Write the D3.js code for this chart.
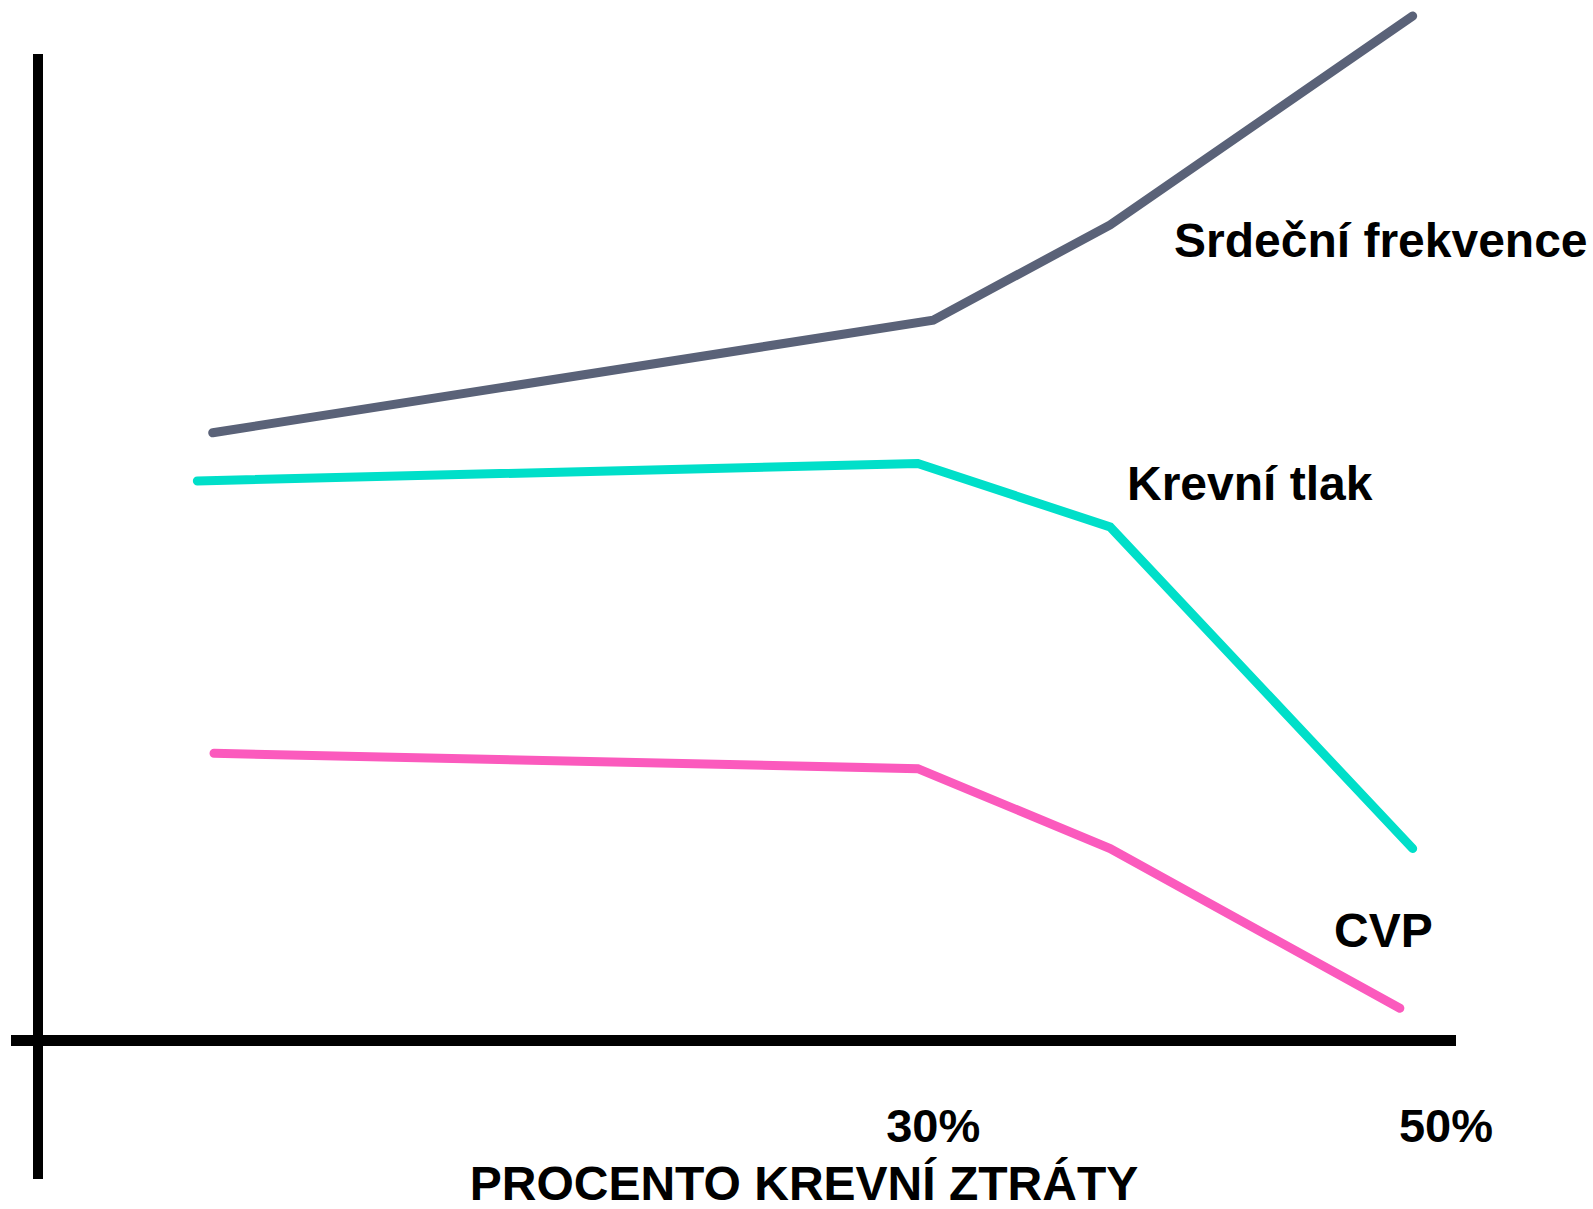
<!DOCTYPE html>
<html>
<head>
<meta charset="utf-8">
<script src="https://cdn.jsdelivr.net/npm/d3@7/dist/d3.min.js"></script>
<style>
  html, body { margin: 0; padding: 0; background: #ffffff; }
  svg { display: block; }
  text { font-family: "Liberation Sans", Arial, Helvetica, sans-serif; font-weight: bold; fill: #000; }
</style>
</head>
<body>
<svg id="chart" width="1593" height="1209"></svg>
<script>
// ---- Data (x: percent blood loss, y: relative level 0-100) ----
const seriesNames = ["Srdeční frekvence", "Krevní tlak", "CVP"];
const heartRateX = [1.9, 30.0, 36.9, 48.7];
const heartRateY = [59.3, 70.3, 79.6, 100];
const bloodPressureX = [1.3, 29.4, 36.9, 48.7];
const bloodPressureY = [54.6, 56.3, 50.1, 18.7];
const cvpX = [1.95, 29.4, 36.9, 48.2];
const cvpY = [28.0, 26.5, 18.7, 3.1];
const tickValues = [30, 50];
const tickLabels = ["30%", "50%"];
const xAxisTitle = "PROCENTO KREVNÍ ZTRÁTY";
const colors = ["#5a6278", "#00dfc9", "#fb5abd"];

// ---- Layout ----
const svg = d3.select("#chart");
const x = d3.scaleLinear().domain([0, 50]).range([164, 1446]);
const y = d3.scaleLinear().domain([0, 100]).range([1040, 16]);

// Axes
svg.append("line")
  .attr("x1", 38).attr("x2", 38)
  .attr("y1", 54).attr("y2", 1179)
  .attr("stroke", "#000").attr("stroke-width", 10);
svg.append("line")
  .attr("x1", 11).attr("x2", 1456)
  .attr("y1", y(0) + 0.5).attr("y2", y(0) + 0.5)
  .attr("stroke", "#000").attr("stroke-width", 11);

// Lines
const series = [
  { name: seriesNames[0], xs: heartRateX, ys: heartRateY, color: colors[0] },
  { name: seriesNames[1], xs: bloodPressureX, ys: bloodPressureY, color: colors[1] },
  { name: seriesNames[2], xs: cvpX, ys: cvpY, color: colors[2] }
];
const line = d3.line().x(d => x(d[0])).y(d => y(d[1]));
series.forEach(s => {
  svg.append("path")
    .datum(s.xs.map((v, i) => [v, s.ys[i]]))
    .attr("d", line)
    .attr("fill", "none")
    .attr("stroke", s.color)
    .attr("stroke-width", 9)
    .attr("stroke-linecap", "round")
    .attr("stroke-linejoin", "miter");
});

// Series labels
const labelPos = [
  { x: 1174, y: 257 },
  { x: 1127, y: 500 },
  { x: 1334, y: 947 }
];
series.forEach((s, i) => {
  svg.append("text")
    .attr("x", labelPos[i].x).attr("y", labelPos[i].y)
    .attr("font-size", 48)
    .text(s.name);
});

// Tick labels
tickValues.forEach((v, i) => {
  svg.append("text")
    .attr("x", x(v)).attr("y", 1142)
    .attr("text-anchor", "middle")
    .attr("font-size", 47)
    .text(tickLabels[i]);
});

// Axis title
svg.append("text")
  .attr("x", 804).attr("y", 1200)
  .attr("text-anchor", "middle")
  .attr("font-size", 48)
  .text(xAxisTitle);
</script>
</body>
</html>
